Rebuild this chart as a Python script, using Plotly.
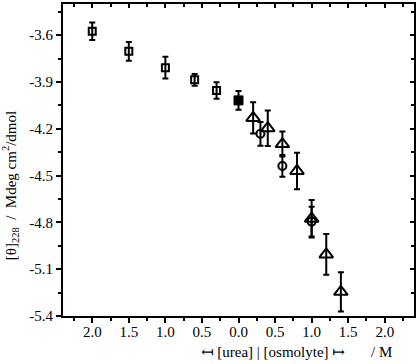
import plotly.graph_objects as go

# urea plotted to the left of zero (negative), osmolyte to the right
urea_conc = [-2.0, -1.5, -1.0, -0.6, -0.3]
urea_theta = [-3.575, -3.703, -3.808, -3.886, -3.954]
urea_err = [0.056, 0.06, 0.07, 0.038, 0.053]

buffer_conc = [0.0]
buffer_theta = [-4.018]
buffer_err = [0.06]

tri_conc = [0.2, 0.4, 0.6, 0.8, 1.0, 1.2, 1.4]
tri_theta = [-4.130, -4.196, -4.298, -4.470, -4.776, -5.005, -5.245]
tri_err = [0.10, 0.114, 0.08, 0.117, 0.12, 0.13, 0.126]

circ_conc = [0.3, 0.6, 1.0]
circ_theta = [-4.232, -4.438, -4.795]
circ_err = [0.076, 0.07, 0.095]

x_tickvals = [-2.0, -1.5, -1.0, -0.5, 0.0, 0.5, 1.0, 1.5, 2.0]
x_ticktext = ["2.0", "1.5", "1.0", "0.5", "0.0", "0.5", "1.0", "1.5", "2.0"]
y_tickvals = [-3.6, -3.9, -4.2, -4.5, -4.8, -5.1, -5.4]
y_ticktext = ["-3.6", "-3.9", "-4.2", "-4.5", "-4.8", "-5.1", "-5.4"]

x_range = [-2.4, 2.4]
y_range = [-5.4, -3.4]

font_name = "Times New Roman, Liberation Serif, DejaVu Serif, serif"


def err(arr):
    return dict(type='data', array=arr, thickness=2, width=3, color='black')


fig = go.Figure()

fig.add_trace(go.Scatter(
    x=urea_conc, y=urea_theta, mode='markers', error_y=err(urea_err),
    marker=dict(symbol='square-open', size=7, color='black', line=dict(width=2, color='black'))
))
fig.add_trace(go.Scatter(
    x=buffer_conc, y=buffer_theta, mode='markers', error_y=err(buffer_err),
    marker=dict(symbol='square', size=9, color='black', line=dict(width=1, color='black'))
))
fig.add_trace(go.Scatter(
    x=tri_conc, y=tri_theta, mode='markers', error_y=err(tri_err),
    marker=dict(symbol='triangle-up-open', size=12, color='black', line=dict(width=2, color='black'))
))
fig.add_trace(go.Scatter(
    x=circ_conc, y=circ_theta, mode='markers', error_y=err(circ_err),
    marker=dict(symbol='circle-open', size=8, color='black', line=dict(width=2, color='black'))
))
# dummy trace so the mirrored (inside-tick) top/right axes get drawn
fig.add_trace(go.Scatter(x=[None], y=[None], xaxis='x2', yaxis='y2', showlegend=False))

fig.update_layout(
    width=418, height=364,
    margin=dict(l=63, r=3, t=2, b=48),
    paper_bgcolor='white', plot_bgcolor='white',
    showlegend=False,
    font=dict(family=font_name, size=15, color='black'),
    xaxis=dict(
        range=x_range, tickvals=x_tickvals, ticktext=x_ticktext,
        showgrid=False, zeroline=False,
        showline=True, linecolor='black', linewidth=2, mirror=True,
        ticks='outside', ticklen=5, tickwidth=1.5, tickcolor='black',
        ticklabelstandoff=-4,
        minor=dict(ticks='outside', dtick=0.25, tick0=0, ticklen=3, tickwidth=1.5, tickcolor='black'),
    ),
    yaxis=dict(
        range=y_range, tickvals=y_tickvals, ticktext=y_ticktext,
        showgrid=False, zeroline=False,
        showline=True, linecolor='black', linewidth=2, mirror=True,
        ticks='outside', ticklen=5, tickwidth=1.5, tickcolor='black',
        minor=dict(ticks='outside', dtick=0.15, tick0=-5.4, ticklen=3, tickwidth=1.5, tickcolor='black'),
    ),
    xaxis2=dict(
        overlaying='x', side='top', anchor='y2', range=x_range,
        showticklabels=False, showgrid=False, zeroline=False, showline=False,
        tickvals=x_tickvals, ticks='inside', ticklen=4, tickwidth=1.5, tickcolor='black',
        minor=dict(ticks='inside', dtick=0.25, tick0=0, ticklen=3, tickwidth=1.5, tickcolor='black'),
    ),
    yaxis2=dict(
        overlaying='y', side='right', anchor='x2', range=y_range,
        showticklabels=False, showgrid=False, zeroline=False, showline=False,
        tickvals=y_tickvals, ticks='inside', ticklen=4, tickwidth=1.5, tickcolor='black',
        minor=dict(ticks='inside', dtick=0.15, tick0=-5.4, ticklen=3, tickwidth=1.5, tickcolor='black'),
    ),
    annotations=[
        dict(text="[θ]<sub>228</sub>  /  Mdeg cm<sup>2</sup>/dmol", textangle=-90,
             xref='paper', yref='paper', x=-0.15, y=0.417, xanchor='center', yanchor='middle',
             showarrow=False, font=dict(family=font_name, size=15)),
        dict(text="↤ [urea] | [osmolyte] ↦", xref='paper', yref='paper',
             x=0.598, y=-0.115, xanchor='center', yanchor='middle',
             showarrow=False, font=dict(family=font_name, size=15)),
        dict(text="/ M", xref='paper', yref='paper',
             x=0.906, y=-0.115, xanchor='center', yanchor='middle',
             showarrow=False, font=dict(family=font_name, size=15)),
    ],
)

# the page's default 8px body margin would shift the whole figure
fig.write_html("out.html", config={'displayModeBar': False},
               post_script="document.body.style.margin = '0';")
